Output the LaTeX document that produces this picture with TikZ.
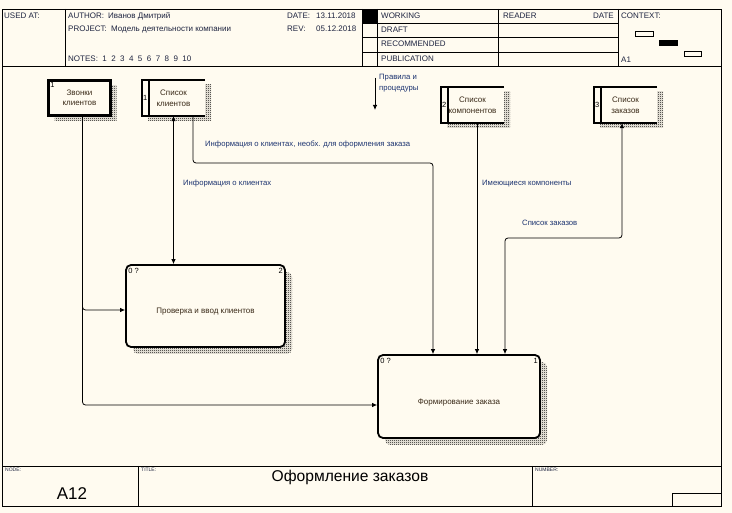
\documentclass[tikz,border=0pt]{standalone}
\usepackage{fontspec}
\setmainfont{Liberation Sans}
\usetikzlibrary{arrows.meta,patterns,shadows}

\definecolor{paper}{HTML}{FFFBF0}
\definecolor{headink}{HTML}{1E2440}
\definecolor{flowink}{HTML}{1C3370}
\definecolor{boxink}{HTML}{3A2A18}

\pgfdeclarepatternformonly{checker}{\pgfpointorigin}{\pgfpoint{2pt}{2pt}}{\pgfpoint{2pt}{2pt}}{
  \pgfpathrectangle{\pgfpointorigin}{\pgfpoint{1pt}{1pt}}
  \pgfpathrectangle{\pgfpoint{1pt}{1pt}}{\pgfpoint{1pt}{1pt}}
  \pgfusepath{fill}
}

\tikzset{
  frame/.style={line width=0.9pt},
  hd/.style={font=\fontsize{8}{9}\selectfont, text=headink, anchor=base west, inner sep=0pt},
  tinyhd/.style={font=\fontsize{5}{6}\selectfont, text=headink, anchor=north west, inner sep=0pt},
  boxtext/.style={font=\fontsize{8}{10.5}\selectfont, text=boxink, align=center, inner sep=0pt},
  num/.style={font=\fontsize{7.5}{8}\selectfont, text=black, inner sep=0pt},
  ent/.style={draw, line width=2.6pt, fill=paper, minimum width=62pt, minimum height=35pt, boxtext,
    general shadow={shadow xshift=6pt, shadow yshift=-5pt, pattern=checker}},
  store/.style={fill=paper, minimum width=63pt, minimum height=36pt, boxtext,
    general shadow={shadow xshift=6pt, shadow yshift=-5pt, pattern=checker}},
  proc/.style={draw, line width=1.8pt, rounded corners=5pt, fill=paper, inner sep=0pt,
    general shadow={shadow xshift=7pt, shadow yshift=-7pt, pattern=checker}},
  flow/.style={line width=0.8pt, -{Latex[length=5pt,width=4.5pt]}},
  biflow/.style={line width=0.8pt, {Latex[length=5pt,width=4.5pt]}-{Latex[length=5pt,width=4.5pt]}},
  lbl/.style={font=\fontsize{7.7}{11}\selectfont, text=flowink, inner sep=0pt, anchor=base west},
}

\begin{document}
\begin{tikzpicture}[x=1pt,y=-1pt]
  \fill[paper] (0,0) rectangle (732,513);
  \useasboundingbox (0,0) rectangle (732,513);

  \draw[frame] (2,9) rectangle (721,506);
  \draw[frame] (2,66) -- (721,66);
  \draw[frame] (65,9) -- (65,66);
  \draw[frame] (362,9) -- (362,66);
  \fill (362,9) rectangle (377,23);
  \draw[frame] (377,9) -- (377,66);
  \draw[frame] (498,9) -- (498,66);
  \draw[frame] (618,9) -- (618,66);
  \foreach \y in {23,37,52}
    \draw[frame] (362,\y) -- (618,\y);
  \draw[line width=0.7pt] (635,31) rectangle (653,36);
  \fill (659,40) rectangle (678,46);
  \draw[line width=0.7pt] (684,51) rectangle (701,56);

  \node[hd] (usedat) at (4,18.7) {USED AT:};
  \node[hd] (author) at (68,18.7) {AUTHOR:};
  \node[hd] (authorname) at (108,18.7) {Иванов Дмитрий};
  \node[hd] (project) at (68,32) {PROJECT:};
  \node[hd] (projectname) at (111,32) {Модель деятельности компании};
  \node[hd] (notes) at (68,62) {NOTES:\ \ 1\ \ 2\ \ 3\ \ 4\ \ 5\ \ 6\ \ 7\ \ 8\ \ 9\ \ 10};
  \node[hd] (date) at (287,18.7) {DATE:};
  \node[hd] (dateval) at (316,18.7) {13.11.2018};
  \node[hd] (rev) at (287,32) {REV:};
  \node[hd] (revval) at (316,32) {05.12.2018};
  \node[hd] (working) at (381,18.7) {WORKING};
  \node[hd] (draft) at (381,33) {DRAFT};
  \node[hd] (recommended) at (381,47) {RECOMMENDED};
  \node[hd] (publication) at (381,62) {PUBLICATION};
  \node[hd] (reader) at (503,18.7) {READER};
  \node[hd, anchor=base east] (readerdate) at (614,18.7) {DATE};
  \node[hd] (context) at (621,18.7) {CONTEXT:};
  \node[hd] (a1) at (621,62.5) {A1};

  \draw[frame] (2,466) -- (721,466);
  \draw[frame] (138,466) -- (138,506);
  \draw[frame] (532,466) -- (532,506);
  \draw[frame] (672,506) |- (721,493);
  \node[tinyhd] (nodelbl) at (5,467.5) {NODE:};
  \node[tinyhd] (titlelbl) at (141,467.5) {TITLE:};
  \node[tinyhd] (numberlbl) at (535,467.5) {NUMBER:};
  \node[font=\fontsize{17}{19}\selectfont, text=black, inner sep=0pt, anchor=base] (nodeval) at (72,500) {A12};
  \node[font=\fontsize{15.6}{17}\selectfont, text=black, inner sep=0pt, anchor=base] (title) at (350,482) {Оформление заказов};

  \node[ent] (zv) at (79.5,98) {Звонки\\клиентов};
  \node[num, anchor=north west] (zvnum) at ([shift={(3pt,-3pt)}]zv.north west) {1};

  \node[store] (ds1) at (173.5,98) {Список\\клиентов};
  \node[store] (ds2) at (472.5,105) {Список\\компонентов};
  \node[store] (ds3) at (625.5,105) {Список\\заказов};
  \foreach \s/\n in {ds1/1,ds2/2,ds3/3} {
    \draw[line width=2pt, line join=miter] (\s.north east) -- (\s.north west) -- (\s.south west) -- (\s.south east);
    \draw[line width=1.8pt] ([xshift=7pt]\s.north west) -- ([xshift=7pt]\s.south west);
    \node[num] (\s num) at ([xshift=3.5pt]\s.west) {\n};
  }

  \node[proc, minimum width=159pt, minimum height=82pt] (p1) at (205.5,306) {};
  \node[boxtext] (p1text) at ([yshift=-6pt]p1.center) {Проверка и ввод клиентов};
  \node[num, anchor=north west] (p1id) at ([shift={(3pt,-4pt)}]p1.north west) {0 ?};
  \node[num, anchor=north east] (p1num) at ([shift={(-3pt,-4pt)}]p1.north east) {2};

  \node[proc, minimum width=162pt, minimum height=83pt] (p2) at (459,396.5) {};
  \node[boxtext] (p2text) at ([yshift=-6pt]p2.center) {Формирование заказа};
  \node[num, anchor=north west] (p2id) at ([shift={(3pt,-4pt)}]p2.north west) {0 ?};
  \node[num, anchor=north east] (p2num) at ([shift={(-3pt,-4pt)}]p2.north east) {1};

  \coordinate (zvout) at ([xshift=3pt]zv.south);
  \coordinate (p1in) at ([yshift=-4pt]p1.west);
  \coordinate (p2in) at ([yshift=-8.5pt]p2.west);
  \coordinate (fork) at (zvout |- p1in);
  \draw[flow, rounded corners=3pt] (zvout) |- (p2in);
  \draw[flow, rounded corners=3pt] ([yshift=5pt]fork) -- (fork) -- (p1in);

  \draw[biflow] (ds1.south) -- (ds1.south |- p1.north);
  \node[lbl] (infolbl) at (183,186) {Информация о клиентах};

  \draw[flow, rounded corners=3pt] (ds1.south -| 193,0) |- (433,163) -- (p2.north -| 433,0);
  \node[lbl] (infoorderlbl) at (205,146.5) {Информация о клиентах, необх. для оформления заказа};

  \draw[flow] (ds2.south -| 477,0) -- (p2.north -| 477,0);
  \node[lbl] (complbl) at (482,185.5) {Имеющиеся компоненты};

  \draw[biflow, rounded corners=3pt] (p2.north -| 505,0) |- (622,238) -- (ds3.south -| 622,0);
  \node[lbl] (orderslbl) at (522,226) {Список заказов};

  \coordinate (rulestop) at (375,78);
  \coordinate (rulesend) at (375,110);
  \draw[flow] (rulestop) -- (rulesend);
  \node[lbl, anchor=north west, align=left] (ruleslbl) at (379,74) {Правила и\\процедуры};
\end{tikzpicture}
\end{document}
